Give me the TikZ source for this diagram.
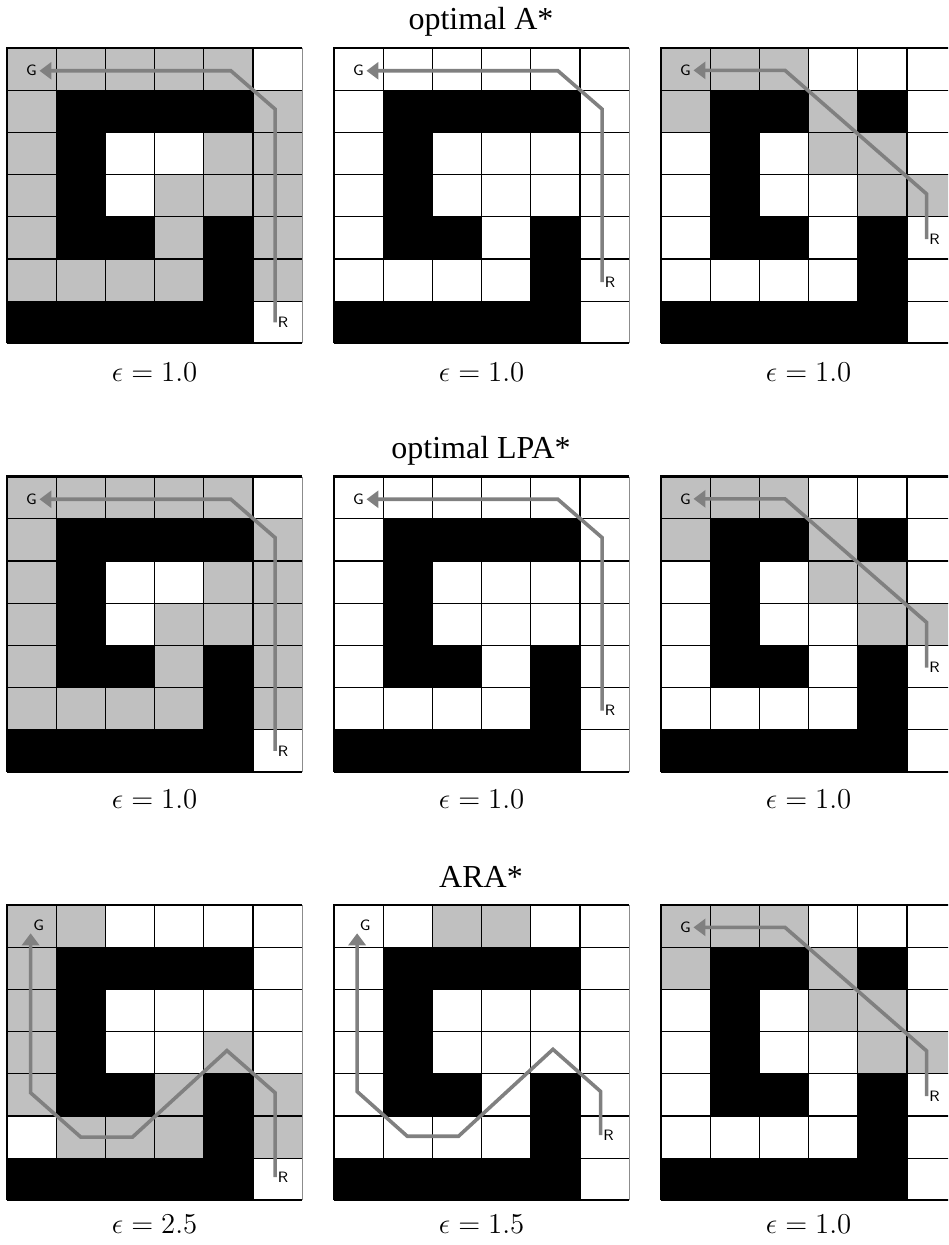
\documentclass[tikz,border=0pt]{standalone}
\usepackage[no-math]{fontspec}
\setmainfont{Liberation Serif}
\usetikzlibrary{arrows.meta}
\definecolor{visited}{HTML}{C0C0C0}
\definecolor{pathgray}{HTML}{808080}

\newcommand{\visitedcells}[1]{\foreach \c/\r in {#1} {\fill[visited] (\c,\r) rectangle ++(1,1);}}
\newcommand{\wallcells}[1]{\foreach \c/\r in {#1} {\fill[black] (\c,\r) rectangle ++(1,1);}}
\newcommand{\stdwalls}{\wallcells{1/1,2/1,3/1,4/1,1/2,1/3,1/4,2/4,4/4,4/5,0/6,1/6,2/6,3/6,4/6}}
\newcommand{\newwalls}{\wallcells{1/1,2/1,4/1,1/2,1/3,1/4,2/4,4/4,4/5,0/6,1/6,2/6,3/6,4/6}}
\newcommand{\cellframe}{%
  \foreach \i in {1,...,5} {\draw[cellline] (\i,0) -- (\i,7);}
  \foreach \j in {1,...,6} {\draw[cellline] (0,\j) -- (6,\j);}
  \draw[line width=0.6pt, black!45] (6,0) -- (6,7);
  \draw[line width=1pt] (6,7) -- (0,7);
  \draw[line width=1.3pt] (0,7) -- (0,0) -- (6,0);
}

\begin{document}
\begin{tikzpicture}[
  cellgrid/.style={x=24.6pt, y=-21.1pt},
  cellline/.style={line width=0.6pt, black},
  route/.style={draw=pathgray, line width=1.8pt},
  tag/.style={font=\fontsize{7.5}{8}\sffamily, inner sep=1.2pt},
  heading/.style={font=\fontsize{16}{18}\selectfont, anchor=base, inner sep=0pt},
  eps/.style={font=\fontsize{14}{16}\selectfont, anchor=base, inner sep=0pt},
  >={Triangle[length=6pt,width=8.5pt]}
]
\useasboundingbox (0,0) rectangle (474pt,-622.5pt);
\clip (0,0) rectangle (474pt,-622.5pt);

% row 1: optimal A*
\node[heading] (tA) at (240.5pt,-15pt) {optimal A*};

\begin{scope}[cellgrid, shift={(3.5pt,-24pt)}]
  \visitedcells{0/0,1/0,2/0,3/0,4/0,0/1,5/1,0/2,4/2,5/2,0/3,3/3,4/3,5/3,0/4,3/4,5/4,0/5,1/5,2/5,3/5,5/5}
  \stdwalls
  \cellframe
  \node[tag, anchor=east] (g11) at (0.66,0.54) {G};
  \node[tag, anchor=west] (r11) at (5.45,6.5) {R};
  \draw[route, ->] (r11.west) -- (5.45,1.45) -- (4.55,0.54) -- (g11);
\end{scope}

\begin{scope}[cellgrid, shift={(167pt,-24pt)}]
  \stdwalls
  \cellframe
  \node[tag, anchor=east] (g12) at (0.66,0.54) {G};
  \node[tag, anchor=west] (r12) at (5.45,5.55) {R};
  \draw[route, ->] (r12.west) -- (5.45,1.45) -- (4.55,0.54) -- (g12);
\end{scope}

\begin{scope}[cellgrid, shift={(330.5pt,-24pt)}]
  \visitedcells{0/0,1/0,2/0,0/1,3/1,3/2,4/2,4/3,5/3}
  \newwalls
  \cellframe
  \node[tag, anchor=east] (g13) at (0.66,0.53) {G};
  \node[tag, anchor=west] (r13) at (5.4,4.53) {R};
  \draw[route, ->] (r13.west) -- (5.4,3.46) -- (2.52,0.53) -- (g13);
\end{scope}

\node[eps] (eA1) at (77.3pt,-191pt) {$\epsilon = 1.0$};
\node[eps] (eA2) at (240.8pt,-191pt) {$\epsilon = 1.0$};
\node[eps] (eA3) at (404.3pt,-191pt) {$\epsilon = 1.0$};

% row 2: optimal LPA*
\node[heading] (tL) at (240.5pt,-229.25pt) {optimal LPA*};

\begin{scope}[cellgrid, shift={(3.5pt,-238.25pt)}]
  \visitedcells{0/0,1/0,2/0,3/0,4/0,0/1,5/1,0/2,4/2,5/2,0/3,3/3,4/3,5/3,0/4,3/4,5/4,0/5,1/5,2/5,3/5,5/5}
  \stdwalls
  \cellframe
  \node[tag, anchor=east] (g21) at (0.66,0.54) {G};
  \node[tag, anchor=west] (r21) at (5.45,6.5) {R};
  \draw[route, ->] (r21.west) -- (5.45,1.45) -- (4.55,0.54) -- (g21);
\end{scope}

\begin{scope}[cellgrid, shift={(167pt,-238.25pt)}]
  \stdwalls
  \cellframe
  \node[tag, anchor=east] (g22) at (0.66,0.54) {G};
  \node[tag, anchor=west] (r22) at (5.45,5.55) {R};
  \draw[route, ->] (r22.west) -- (5.45,1.45) -- (4.55,0.54) -- (g22);
\end{scope}

\begin{scope}[cellgrid, shift={(330.5pt,-238.25pt)}]
  \visitedcells{0/0,1/0,2/0,0/1,3/1,3/2,4/2,4/3,5/3}
  \newwalls
  \cellframe
  \node[tag, anchor=east] (g23) at (0.66,0.53) {G};
  \node[tag, anchor=west] (r23) at (5.4,4.53) {R};
  \draw[route, ->] (r23.west) -- (5.4,3.46) -- (2.52,0.53) -- (g23);
\end{scope}

\node[eps] (eL1) at (77.3pt,-404pt) {$\epsilon = 1.0$};
\node[eps] (eL2) at (240.8pt,-404pt) {$\epsilon = 1.0$};
\node[eps] (eL3) at (404.3pt,-404pt) {$\epsilon = 1.0$};

% row 3: ARA*
\node[heading] (tR) at (240.5pt,-443.5pt) {ARA*};

\begin{scope}[cellgrid, shift={(3.5pt,-452.5pt)}]
  \visitedcells{0/0,1/0,0/1,0/2,0/3,4/3,0/4,3/4,5/4,1/5,2/5,3/5,5/5}
  \stdwalls
  \cellframe
  \node[tag, anchor=south west] (g31) at (0.48,0.67) {G};
  \node[tag, anchor=west] (r31) at (5.45,6.45) {R};
  \draw[route, ->] (r31.west) -- (5.45,4.45) -- (4.47,3.45) -- (2.55,5.5) -- (1.5,5.5) -- (0.48,4.45) -- (g31.south west);
\end{scope}

\begin{scope}[cellgrid, shift={(167pt,-452.5pt)}]
  \visitedcells{2/0,3/0}
  \stdwalls
  \cellframe
  \node[tag, anchor=south west] (g32) at (0.47,0.67) {G};
  \node[tag, anchor=west] (r32) at (5.42,5.45) {R};
  \draw[route, ->] (r32.west) -- (5.42,4.42) -- (4.45,3.42) -- (2.53,5.48) -- (1.49,5.48) -- (0.47,4.42) -- (g32.south west);
\end{scope}

\begin{scope}[cellgrid, shift={(330.5pt,-452.5pt)}]
  \visitedcells{0/0,1/0,2/0,0/1,3/1,3/2,4/2,4/3,5/3}
  \newwalls
  \cellframe
  \node[tag, anchor=east] (g33) at (0.66,0.53) {G};
  \node[tag, anchor=west] (r33) at (5.4,4.53) {R};
  \draw[route, ->] (r33.west) -- (5.4,3.46) -- (2.52,0.53) -- (g33);
\end{scope}

\node[eps] (eR1) at (77.3pt,-616.5pt) {$\epsilon = 2.5$};
\node[eps] (eR2) at (240.8pt,-616.5pt) {$\epsilon = 1.5$};
\node[eps] (eR3) at (404.3pt,-616.5pt) {$\epsilon = 1.0$};
\end{tikzpicture}
\end{document}
